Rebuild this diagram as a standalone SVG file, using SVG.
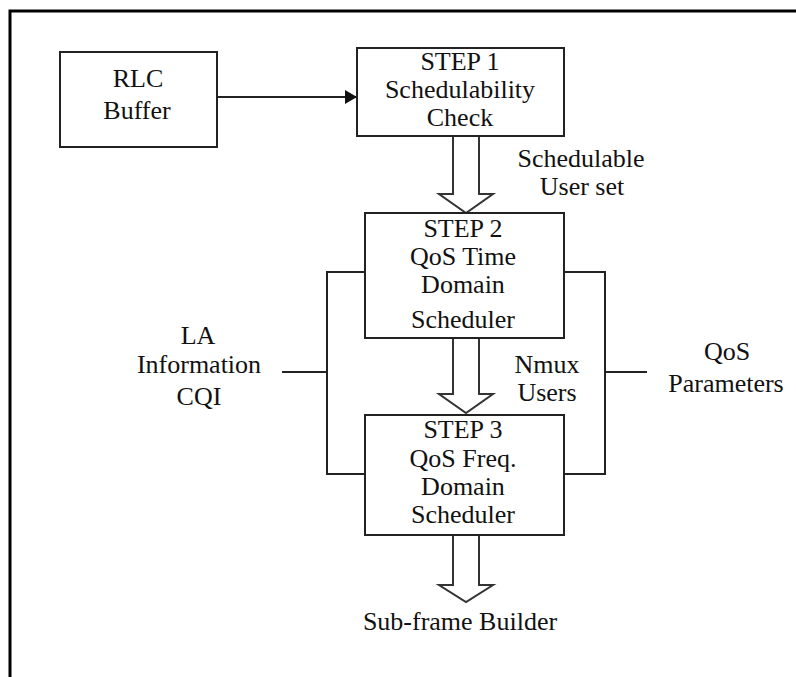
<svg xmlns="http://www.w3.org/2000/svg" width="796" height="677" viewBox="0 0 796 677">
<style>
.box{fill:#fff;stroke:#222;stroke-width:2}
.ln{fill:none;stroke:#222;stroke-width:2}
.hol{fill:#fff;stroke:#333;stroke-width:2;stroke-linejoin:miter}
.t{font-family:'Liberation Serif','DejaVu Serif',serif;font-size:26px;fill:#111;text-anchor:middle}
</style>
<defs>
<marker id="ah" viewBox="0 0 12 14" refX="12" refY="7" markerWidth="12" markerHeight="14" markerUnits="userSpaceOnUse" orient="auto">
<path d="M0,0 L12,7 L0,14 Z" fill="#111"/>
</marker>
</defs>
<rect width="796" height="677" fill="#fff"/>
<path d="M10,677 V11 H796" fill="none" stroke="#000" stroke-width="3"/>
<g id="connectors">
<line class="ln" x1="217" y1="97" x2="357" y2="97" marker-end="url(#ah)"/>
<polygon class="hol" points="453,136 479,136 479,194 493,194 466,213 439,194 453,194"/>
<polygon class="hol" points="453,338 479,338 479,394 493,394 466,413 439,394 453,394"/>
<polygon class="hol" points="453,535 479,535 479,585 493,585 466,602 439,585 453,585"/>
<path class="ln" d="M365,272 H327 V474 H365"/>
<path class="ln" d="M564,272 H605 V474 H564"/>
<line class="ln" x1="282" y1="372" x2="327" y2="372"/>
<line class="ln" x1="605" y1="372" x2="647" y2="372"/>
</g>
<g id="rlc" class="t" font-family="Liberation Serif, DejaVu Serif, serif">
<rect class="box" x="60" y="52" width="157" height="95"/>
<text x="138" y="87">RLC</text>
<text x="137" y="119">Buffer</text>
</g>
<g id="step1" class="t" font-family="Liberation Serif, DejaVu Serif, serif">
<rect class="box" x="357" y="48" width="207" height="88"/>
<text x="460" y="70">STEP 1</text>
<text x="460" y="98">Schedulability</text>
<text x="460" y="126">Check</text>
</g>
<g id="step2" class="t" font-family="Liberation Serif, DejaVu Serif, serif">
<rect class="box" x="365" y="213" width="199" height="125"/>
<text x="463" y="237">STEP 2</text>
<text x="463" y="265">QoS Time</text>
<text x="463" y="293">Domain</text>
<text x="463" y="328">Scheduler</text>
</g>
<g id="step3" class="t" font-family="Liberation Serif, DejaVu Serif, serif">
<rect class="box" x="365" y="415" width="199" height="120"/>
<text x="463" y="438">STEP 3</text>
<text x="463" y="467">QoS Freq.</text>
<text x="463" y="495">Domain</text>
<text x="463" y="523">Scheduler</text>
</g>
<g id="labels" class="t" font-family="Liberation Serif, DejaVu Serif, serif">
<text x="581" y="167">Schedulable</text>
<text x="582" y="195">User set</text>
<text x="547" y="373">Nmux</text>
<text x="547" y="401">Users</text>
<text x="198" y="344">LA</text>
<text x="199" y="373">Information</text>
<text x="199" y="405">CQI</text>
<text x="727" y="360">QoS</text>
<text x="726" y="392">Parameters</text>
<text x="460" y="630">Sub-frame Builder</text>
</g>
</svg>
